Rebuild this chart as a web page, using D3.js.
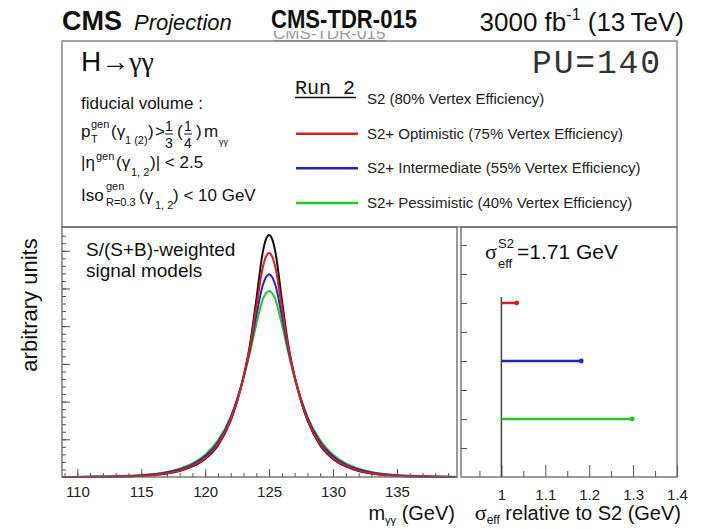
<!DOCTYPE html>
<html><head><meta charset="utf-8">
<script src="https://cdn.jsdelivr.net/npm/d3@7"></script>
<style>
body{margin:0;background:#fff}
text{font-family:"Liberation Sans",Arial,Helvetica,sans-serif;fill:#111}
</style>
</head><body><script>
// ---------------- DATA ----------------
const massGrid = [108.8, 111, 113, 115, 116, 117, 118, 119, 120, 121, 122, 122.5, 123, 123.5, 124, 124.5, 124.75, 125,
                  125.25, 125.5, 126, 126.5, 127, 127.5, 128, 129, 130, 131, 132, 133, 134, 135, 137, 139.7];
const modelS2 =      [0, 0.003, 0.01, 0.03, 0.05, 0.09, 0.16, 0.28, 0.48, 0.84, 1.5, 2.0, 2.65, 3.5, 4.7, 5.95, 6.3, 6.42,
                      6.3, 5.95, 4.7, 3.5, 2.65, 2.0, 1.5, 0.84, 0.48, 0.28, 0.16, 0.09, 0.05, 0.03, 0.01, 0.002];
const modelOptim =   [0, 0.004, 0.012, 0.033, 0.055, 0.1, 0.17, 0.3, 0.5, 0.87, 1.52, 2.02, 2.65, 3.45, 4.5, 5.55, 5.84, 5.94,
                      5.84, 5.55, 4.5, 3.45, 2.65, 2.02, 1.52, 0.87, 0.5, 0.3, 0.17, 0.1, 0.055, 0.033, 0.012, 0.002];
const modelInterm =  [0, 0.005, 0.015, 0.04, 0.07, 0.12, 0.2, 0.33, 0.55, 0.92, 1.57, 2.06, 2.65, 3.38, 4.28, 5.08, 5.3, 5.38,
                      5.3, 5.08, 4.28, 3.38, 2.65, 2.06, 1.57, 0.92, 0.55, 0.33, 0.2, 0.12, 0.07, 0.04, 0.015, 0.003];
const modelPessim =  [0, 0.006, 0.02, 0.05, 0.08, 0.13, 0.22, 0.36, 0.59, 0.97, 1.6, 2.06, 2.62, 3.3, 4.05, 4.7, 4.87, 4.93,
                      4.87, 4.7, 4.05, 3.3, 2.62, 2.06, 1.6, 0.97, 0.59, 0.36, 0.22, 0.13, 0.08, 0.05, 0.02, 0.003];
const seriesNames = ["S2 (80% Vertex Efficiency)", "S2+ Optimistic (75% Vertex Efficiency)",
                     "S2+ Intermediate (55% Vertex Efficiency)", "S2+ Pessimistic (40% Vertex Efficiency)"];
const ratioCategories = ["S2+ Optimistic", "S2+ Intermediate", "S2+ Pessimistic"];
const ratioValues = [1.035, 1.182, 1.298];
const sigmaEffS2 = "1.71";
const massTickLabels = [110, 115, 120, 125, 130, 135];
const ratioTickLabels = [1, 1.1, 1.2, 1.3, 1.4];

// ---------------- LAYOUT ----------------
const W = 702, H = 529;
const svg = d3.select("body").append("svg").attr("width", W).attr("height", H);
const colors = ["#111111", "#d81e1e", "#2222cc", "#22c822"];
const L = {x0: 62, x1: 457, y0: 227, y1: 477};
const R = {x0: 461, x1: 677, y0: 227, y1: 477};
const defs = svg.append("defs");

// Header
svg.append("text").attr("x", 62).attr("y", 30).attr("font-size", 27).attr("font-weight", "bold").text("CMS");
svg.append("text").attr("x", 134).attr("y", 30).attr("font-size", 22).attr("font-style", "italic").text("Projection");
defs.append("clipPath").attr("id", "clipGhost").append("rect").attr("x", 260).attr("y", 31).attr("width", 170).attr("height", 14);
svg.append("text").attr("x", 273).attr("y", 39).attr("font-size", 17).style("fill", "#9a9a9a")
   .attr("clip-path", "url(#clipGhost)")
   .attr("text-decoration", "underline").text("CMS-TDR-015");
svg.append("text").attr("x", 271).attr("y", 28).attr("font-size", 26).attr("font-weight", "bold")
   .style("font-family", "'Liberation Sans Narrow','Liberation Sans',Arial,sans-serif")
   .attr("textLength", 146).attr("lengthAdjust", "spacingAndGlyphs").text("CMS-TDR-015");
const lumi = svg.append("text").attr("x", 684).attr("y", 31).attr("font-size", 26).attr("text-anchor", "end");
lumi.append("tspan").text("3000 fb");
lumi.append("tspan").attr("font-size", 16).attr("dy", -11).text("-1");
lumi.append("tspan").attr("dy", 11).text(" (13\u2009TeV)");

// Top box
svg.append("rect").attr("x", 62).attr("y", 41).attr("width", 615).attr("height", 186)
   .attr("fill", "none").attr("stroke", "#888").attr("stroke-width", 1.5);

const hgg = svg.append("text").attr("x", 81).attr("y", 71).attr("font-size", 28);
hgg.append("tspan").text("H\u2192");
hgg.append("tspan").style("font-family", "'Liberation Serif',serif").text("\u03b3\u03b3");

svg.append("text").attr("x", 532).attr("y", 73).attr("font-size", 33)
   .style("font-family", "'Liberation Mono',monospace").style("fill", "#333")
   .attr("textLength", 128).text("PU=140");

function t(x, y, s, txt, anchor) {
  return svg.append("text").attr("x", x).attr("y", y).attr("font-size", s)
     .attr("text-anchor", anchor || "start").text(txt);
}
t(81, 109, 17, "fiducial volume :");
// pT line
t(81, 137, 17, "p"); t(91, 128, 11, "gen"); t(91, 143, 11, "T");
t(111, 137, 17, "(\u03b3"); t(125, 144, 11, "1 (2)"); t(148, 137, 17, ")");
t(155, 137, 17, ">");
t(169, 131, 14, "1", "middle"); t(169, 148, 14, "3", "middle");
svg.append("line").attr("x1", 165).attr("x2", 173).attr("y1", 134).attr("y2", 134).attr("stroke", "#111").attr("stroke-width", 1);
t(177, 137, 17, "(");
t(188, 131, 14, "1", "middle"); t(188, 148, 14, "4", "middle");
svg.append("line").attr("x1", 184).attr("x2", 192).attr("y1", 134).attr("y2", 134).attr("stroke", "#111").attr("stroke-width", 1);
t(196, 137, 17, ")");
t(204, 137, 17, "m"); t(219, 145, 9, "\u03b3\u03b3");
// eta line
t(81, 168, 17, "|\u03b7"); t(96, 160, 11, "gen");
t(116, 168, 17, "(\u03b3"); t(131, 176, 11, "1, 2"); t(150, 168, 17, ")| < 2.5");
// Iso line
t(81, 201, 17, "Iso"); t(106, 190, 11, "gen"); t(106, 206, 11, "R=0.3");
t(139, 201, 17, "(\u03b3"); t(155, 209, 11, "1, 2"); t(173, 201, 17, ") < 10 GeV");

// Legend
svg.append("text").attr("x", 295).attr("y", 94).attr("font-size", 20)
   .style("font-family", "'Liberation Mono',monospace").text("Run 2");
svg.append("line").attr("x1", 295).attr("x2", 356).attr("y1", 97.5).attr("y2", 97.5).attr("stroke", "#111").attr("stroke-width", 1.5);
const legY = d3.scalePoint().domain(seriesNames).range([99, 203]);
seriesNames.forEach((n, i) => {
  if (i > 0) {
    svg.append("line").attr("x1", 296).attr("x2", 358).attr("y1", legY(n)).attr("y2", legY(n))
       .attr("stroke", colors[i]).attr("stroke-width", 2.5);
  }
  svg.append("text").attr("x", 367).attr("y", legY(n) + 5).attr("font-size", 15).style("fill", "#222").text(n);
});

// ---------------- LEFT PLOT ----------------
const x = d3.scaleLinear().domain([108.8, 139.7]).range([L.x0, L.x1]);
const y = d3.scaleLinear().domain([0, 6.63]).range([L.y1, L.y0]);

const gL = svg.append("g");
defs.append("clipPath").attr("id", "clipL").append("rect")
  .attr("x", L.x0).attr("y", L.y0).attr("width", L.x1 - L.x0).attr("height", L.y1 - L.y0 + 2);

gL.append("g").attr("transform", `translate(0,${L.y1})`)
  .call(d3.axisBottom(x).tickValues(d3.range(109, 140, 1)).tickSize(-4).tickFormat(""))
  .call(g => g.select(".domain").remove());
gL.append("g").attr("transform", `translate(0,${L.y1})`)
  .call(d3.axisBottom(x).tickValues(massTickLabels).tickSize(-8).tickPadding(9.5).tickFormat(d3.format("d")))
  .call(g => g.select(".domain").remove())
  .call(g => g.selectAll("text").attr("font-size", 15).style("fill", "#222"));
gL.append("g").attr("transform", `translate(${L.x0},0)`)
  .call(d3.axisLeft(y).tickValues(d3.range(0.2, 6.6, 0.2)).tickSize(-4).tickFormat(""))
  .call(g => g.select(".domain").remove());
gL.append("g").attr("transform", `translate(${L.x0},0)`)
  .call(d3.axisLeft(y).tickValues(d3.range(1, 7, 1)).tickSize(-8).tickFormat(""))
  .call(g => g.select(".domain").remove());
gL.selectAll(".tick line").attr("stroke", "#555");

const models = [modelS2, modelOptim, modelInterm, modelPessim];
const line = d3.line().x(d => x(d[0])).y(d => y(d[1])).curve(d3.curveMonotoneX);
[0, 3, 2, 1].forEach(i => {
  gL.append("path").attr("clip-path", "url(#clipL)")
    .datum(massGrid.map((m, j) => [m, models[i][j]]))
    .attr("d", line).attr("fill", "none").attr("stroke", colors[i]).attr("stroke-width", 2);
});
gL.append("rect").attr("x", L.x0).attr("y", L.y0).attr("width", L.x1 - L.x0).attr("height", L.y1 - L.y0)
  .attr("fill", "none").attr("stroke", "#666").attr("stroke-width", 1.3);

t(86, 256, 19, "S/(S+B)-weighted");
t(86, 277, 19, "signal models");

// ---------------- RIGHT PLOT ----------------
const xR = d3.scaleLinear().domain([0.908, 1.4]).range([R.x0, R.x1]);
const yR = d3.scaleLinear().domain([0, 8.62]).range([R.y1, R.y0]);
const yCat = d3.scalePoint().domain(ratioCategories).range([yR(6), yR(2)]);
const gR = svg.append("g");
gR.append("g").attr("transform", `translate(0,${R.y1})`)
  .call(d3.axisBottom(xR).tickValues(d3.range(0.95, 1.4, 0.1)).tickSize(-6).tickFormat(""))
  .call(g => g.select(".domain").remove());
gR.append("g").attr("transform", `translate(0,${R.y1})`)
  .call(d3.axisBottom(xR).tickValues(ratioTickLabels).tickSize(-12).tickPadding(12)
        .tickFormat(d => d === 1 ? "1" : d3.format(".1f")(d)))
  .call(g => g.select(".domain").remove())
  .call(g => g.selectAll("text").attr("font-size", 15).style("fill", "#222"));
gR.append("g").attr("transform", `translate(${R.x0},0)`)
  .call(d3.axisLeft(yR).tickValues(d3.range(1, 9, 1)).tickSize(-6).tickFormat(""))
  .call(g => g.select(".domain").remove());
gR.selectAll(".tick line").attr("stroke", "#555");

gR.append("line").attr("x1", xR(1)).attr("x2", xR(1)).attr("y1", R.y1).attr("y2", yCat(ratioCategories[0]) - 6)
  .attr("stroke", "#444").attr("stroke-width", 1.5);
ratioCategories.forEach((c, i) => {
  gR.append("line").attr("x1", xR(1)).attr("x2", xR(ratioValues[i])).attr("y1", yCat(c)).attr("y2", yCat(c))
    .attr("stroke", colors[i + 1]).attr("stroke-width", 2.5);
  gR.append("circle").attr("cx", xR(ratioValues[i])).attr("cy", yCat(c)).attr("r", 2.4).attr("fill", colors[i + 1]);
});
gR.append("rect").attr("x", R.x0).attr("y", R.y0).attr("width", R.x1 - R.x0).attr("height", R.y1 - R.y0)
  .attr("fill", "none").attr("stroke", "#666").attr("stroke-width", 1.3);

const sig = svg.append("text").attr("x", 485).attr("y", 259).attr("font-size", 22);
sig.append("tspan").style("font-family", "'Liberation Serif',serif").text("\u03c3");
svg.append("text").attr("x", 498).attr("y", 248).attr("font-size", 13).text("S2");
svg.append("text").attr("x", 498).attr("y", 268).attr("font-size", 13).text("eff");
t(517, 259, 21, "=" + sigmaEffS2 + " GeV");

// Axis titles
const mt = svg.append("text").attr("x", 455).attr("y", 520).attr("font-size", 20).attr("text-anchor", "end");
mt.append("tspan").text("m");
mt.append("tspan").attr("font-size", 11).attr("dy", 4).text("\u03b3\u03b3");
mt.append("tspan").attr("dy", -4).text(" (GeV)");
const st = svg.append("text").attr("x", 681).attr("y", 520).attr("font-size", 20).attr("text-anchor", "end");
st.append("tspan").style("font-family", "'Liberation Serif',serif").attr("font-size", 22).text("\u03c3");
st.append("tspan").attr("font-size", 12).attr("dy", 4).text("eff");
st.append("tspan").attr("dy", -4).text(" relative to S2 (GeV)");
svg.append("text").attr("transform", "translate(37,305) rotate(-90)").attr("text-anchor", "middle")
   .attr("font-size", 22).text("arbitrary units");
</script></body></html>
